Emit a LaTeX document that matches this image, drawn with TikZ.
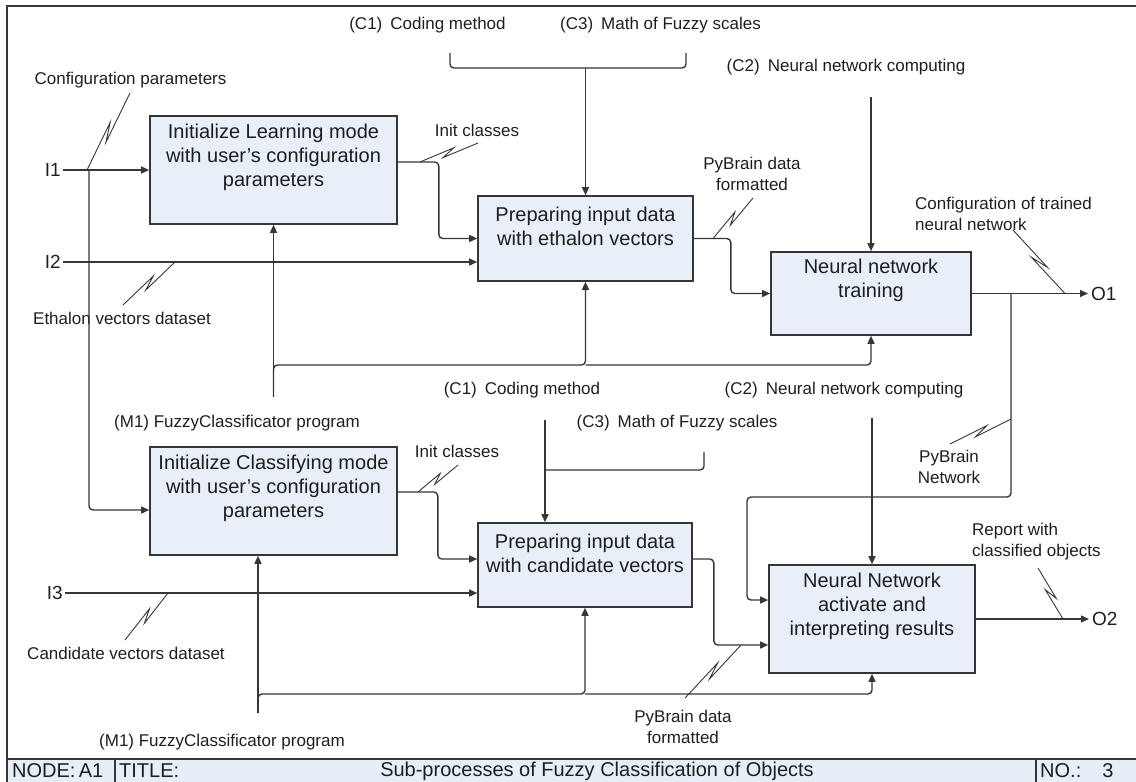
\documentclass[tikz,border=0pt]{standalone}
\usepackage{fontspec}
\setmainfont{Liberation Sans}
\usetikzlibrary{arrows.meta,calc}

\definecolor{ink}{HTML}{363636}
\definecolor{txt}{HTML}{1E1E1E}
\definecolor{boxfill}{HTML}{E8EFF8}
\definecolor{barfill}{HTML}{E6EEF8}

\tikzset{
  proc/.style={draw=ink, line width=1.6pt, fill=boxfill, inner sep=0pt},
  proctext/.style={align=center, font=\fontsize{20}{24}\selectfont, text=txt, inner sep=0pt},
  lbl/.style={font=\fontsize{17}{21}\selectfont, text=txt, inner sep=0pt, align=center},
  port/.style={font=\fontsize{19}{22}\selectfont, text=txt, inner sep=0pt},
  bar/.style={font=\fontsize{20}{24}\selectfont, text=txt, inner sep=0pt},
  flow/.style={draw=ink, line width=1.4pt, rounded corners=4pt},
  arr/.style={flow, -{Triangle[length=8pt,width=7pt]}},
  squig/.style={draw=ink, line width=0.9pt},
}

% IDEF0 squiggle joining a label to its arrow
\newcommand{\zigline}[2]{%
  \draw[squig] (#1) -- ($(#1)!0.62!(#2)!3pt!90:(#2)$)
                    -- ($(#1)!0.40!(#2)!3pt!-90:(#2)$) -- (#2);}

\begin{document}
\begin{tikzpicture}[x=1pt,y=-1pt]
\useasboundingbox (0,0) rectangle (1136,782);

% frame and title bar
\fill[barfill] (7,759) rectangle (1136,782);
\draw[ink, line width=1.5pt] (1136,6) -- (7,6) -- (7,782);
\draw[ink, line width=1.3pt] (7,759) -- (1136,759);
\draw[ink, line width=1.3pt] (115,759) -- (115,782);
\draw[ink, line width=1.3pt] (1036,759) -- (1036,782);
\node[bar, anchor=west] (nodeid) at (12,771) {NODE:\,A1};
\node[bar, anchor=west] (titlekey) at (119,771) {TITLE:};
\node[bar] (titletext) at (597,771) {Sub-processes of Fuzzy Classification of Objects};
\node[bar, anchor=west] (nokey) at (1040,771) {NO.:};
\node[bar] (noval) at (1108,771) {3};

% activity boxes
\node[proc, minimum width=247pt, minimum height=108pt] (A) at (273.5,170) {};
\node[proctext] (At) at (273.5,157.5) {Initialize Learning mode\\with user's configuration\\parameters};
\node[proc, minimum width=215pt, minimum height=85pt] (B) at (585.5,238.5) {};
\node[proctext] (Bt) at (585.5,226.5) {Preparing input data\\with ethalon vectors};
\node[proc, minimum width=200pt, minimum height=83pt] (C) at (871,293.5) {};
\node[proctext] (Ct) at (871,280.5) {Neural network\\training};
\node[proc, minimum width=247pt, minimum height=108pt] (D) at (273.5,501) {};
\node[proctext] (Dt) at (273.5,488) {Initialize Classifying mode\\with user's configuration\\parameters};
\node[proc, minimum width=214pt, minimum height=84pt] (E) at (585,565) {};
\node[proctext] (Et) at (585,553.5) {Preparing input data\\with candidate vectors};
\node[proc, minimum width=206pt, minimum height=108pt] (F) at (872,619) {};
\node[proctext] (Ft) at (872,606) {Neural Network\\activate and\\interpreting results};

% boundary ports
\node[port, anchor=east] (I1) at (61,170) {I1};
\node[port, anchor=east] (I2) at (61,262) {I2};
\node[port, anchor=east] (I3) at (63,593) {I3};
\node[port, anchor=west] (O1) at (1091,293.5) {O1};
\node[port, anchor=west] (O2) at (1092,619) {O2};

% labels
\node[lbl] (cfgp) at (130.5,80) {Configuration parameters};
\node[lbl] (ethd) at (122,318) {Ethalon vectors dataset};
\node[lbl] (init1) at (477,130) {Init classes};
\node[lbl] (c1top) at (427.5,25) {(C1)\hspace{8pt}Coding method};
\node[lbl] (c3top) at (660.5,25) {(C3)\hspace{8pt}Math of Fuzzy scales};
\node[lbl] (c2top) at (846,67) {(C2)\hspace{8pt}Neural network computing};
\node[lbl] (pbd1) at (752,174) {PyBrain data\\formatted};
\node[lbl, anchor=west, align=left] (cfgt) at (915,214) {Configuration of trained\\neural network};
\node[lbl] (m1top) at (237,423) {(M1) FuzzyClassificator program};
\node[lbl] (c1low) at (522,390) {(C1)\hspace{8pt}Coding method};
\node[lbl] (c3low) at (677,423) {(C3)\hspace{8pt}Math of Fuzzy scales};
\node[lbl] (c2low) at (844,390) {(C2)\hspace{8pt}Neural network computing};
\node[lbl] (pbnet) at (949,467) {PyBrain\\Network};
\node[lbl] (init2) at (457,451) {Init classes};
\node[lbl, anchor=west, align=left] (rep) at (972,542) {Report with\\classified objects};
\node[lbl] (cand) at (126,653) {Candidate vectors dataset};
\node[lbl] (pbd2) at (683,727) {PyBrain data\\formatted};
\node[lbl] (m1low) at (222,742) {(M1) FuzzyClassificator program};

% inputs
\coordinate (j1) at (89,170);
\draw[arr] ([xshift=2pt]I1.east) -- (A.west);
\draw[arr] (j1) |- ([yshift=-9pt]D.west);
\draw[arr] ([xshift=2pt]I2.east) -- ([yshift=-23.5pt]B.west);
\draw[arr] ([xshift=2pt]I3.east) -- ([yshift=-28pt]E.west);

% upper chain
\draw[arr] ([yshift=8pt]A.east) -- ++(41,0) |- (B.west);
\draw[arr] (B.east) -- ++(37,0) |- (C.west);
\draw[arr] (C.east) -- ([xshift=-3pt]O1.west);

% lower chain
\draw[arr] ([yshift=9pt]D.east) -- ++(40,0) |- ([yshift=6pt]E.west);
\draw[arr] ([yshift=6pt]E.east) -- ++(21,0) |- ([yshift=-26pt]F.west);
\draw[arr] (F.east) -- ([xshift=-3pt]O2.west);

% trained network fed to the classifier
\coordinate (fbj) at (1011,293.5);
\coordinate (fb1) at (1011,497);
\coordinate (fb2) at (747,497);
\draw[arr] (fbj) -- (fb1) -- (fb2) |- ([yshift=19pt]F.west);

% upper controls
\coordinate (br1) at (450,53);
\coordinate (br2) at (686,53);
\coordinate (brj) at (585.5,68);
\draw[flow] (br1) |- (brj) -| (br2);
\draw[arr] (brj) -- (B.north);
\coordinate (c2a) at (871,97);
\draw[arr] (c2a) -- (C.north);

% lower controls
\coordinate (c1b) at (545,420);
\coordinate (c3b) at (704,452);
\coordinate (c3j) at (545,470);
\draw[arr] (c1b) -- ([xshift=-40pt]E.north);
\draw[flow] (c3b) |- (c3j);
\coordinate (c2b) at (872,418);
\draw[arr] (c2b) -- (F.north);

% upper mechanism
\coordinate (m1a) at (273.5,397);
\coordinate (m1j) at (273.5,365);
\draw[arr] (m1a) -- (A.south);
\draw[arr] (m1a) -- (m1j) -| (B.south);
\draw[arr] (B.south |- m1j) -| (C.south);

% lower mechanism
\coordinate (m1c) at (258,713);
\coordinate (m1k) at (258,694);
\draw[arr] (m1c) -- ([xshift=-15.5pt]D.south);
\draw[arr] (m1c) -- (m1k) -| (E.south);
\draw[arr] (E.south |- m1k) -| (F.south);

% squiggles
\coordinate (s1a) at (130,93);   \coordinate (s1b) at (87,170);
\coordinate (s2a) at (123,305);  \coordinate (s2b) at (175,262);
\coordinate (s3a) at (478,143);  \coordinate (s3b) at (420,162);
\coordinate (s4a) at (753,198);  \coordinate (s4b) at (713,238.5);
\coordinate (s5a) at (1013,230); \coordinate (s5b) at (1065,293.5);
\coordinate (s6a) at (950,444);  \coordinate (s6b) at (1011,419);
\coordinate (s7a) at (458,465);  \coordinate (s7b) at (418,492);
\coordinate (s8a) at (125,640);  \coordinate (s8b) at (168,593);
\coordinate (s9a) at (685,698);  \coordinate (s9b) at (741,645);
\coordinate (s10a) at (1038,568); \coordinate (s10b) at (1063,619);
\zigline{s1a}{s1b}
\zigline{s2a}{s2b}
\zigline{s3a}{s3b}
\zigline{s4a}{s4b}
\zigline{s5a}{s5b}
\zigline{s6a}{s6b}
\zigline{s7a}{s7b}
\zigline{s8a}{s8b}
\zigline{s9a}{s9b}
\zigline{s10a}{s10b}
\end{tikzpicture}
\end{document}
